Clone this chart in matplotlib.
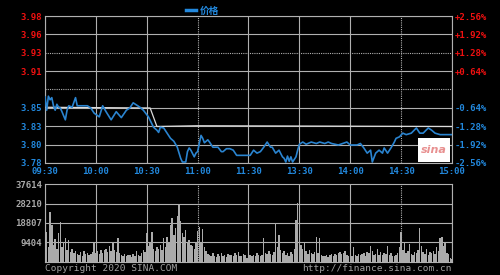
import numpy as np
import matplotlib
matplotlib.use('Agg')
import matplotlib.pyplot as plt

# previous close and the percent grid
prev_close = 3.88
pct_steps = [-2.56, -1.92, -1.28, -0.64, 0.0, 0.64, 1.28, 1.92, 2.56]
left_labels = ['3.78', '3.80', '3.83', '3.85', '', '3.91', '3.93', '3.96', '3.98']
right_labels = ['-2.56%', '-1.92%', '-1.28%', '-0.64%', '', '+0.64%', '+1.28%', '+1.92%', '+2.56%']
time_labels = ['09:30', '10:00', '10:30', '11:00', '11:30', '13:30', '14:00', '14:30', '15:00']
vol_ticks = [9404, 18807, 28210, 37614]
vol_labels = ['9404', '18807', '28210', '37614']

# minute index / price
price_idx = [0, 1, 2, 3, 4, 5, 6, 7, 8, 9, 10, 12, 13, 14, 16, 18, 19, 22, 25, 27,
             29, 32, 34, 36, 39, 42, 45, 48, 50, 52, 54, 56, 58, 61, 64, 66, 67, 68, 70, 72,
             74, 76, 78, 80, 81, 83, 84, 85, 86, 88, 89, 90, 92, 93, 94, 96, 97, 99, 102, 104,
             105, 107, 109, 111, 113, 117, 120, 121, 123, 125, 127, 129, 131, 133, 134, 136, 138, 140, 141, 142,
             143, 144, 145, 146, 148, 149, 150, 152, 154, 157, 160, 162, 165, 167, 169, 173, 178, 180, 184, 186,
             188, 190, 192, 193, 195, 197, 199, 200, 202, 204, 206, 207, 209, 211, 213, 216, 219, 221, 223, 226,
             228, 230, 233, 239, 240]
price_val = [3.870, 3.852, 3.871, 3.866, 3.869, 3.858, 3.852, 3.860, 3.856, 3.855, 3.850, 3.839, 3.852, 3.858, 3.856, 3.869, 3.858, 3.858, 3.858, 3.855,
             3.848, 3.843, 3.858, 3.850, 3.839, 3.850, 3.842, 3.852, 3.855, 3.862, 3.859, 3.856, 3.852, 3.843, 3.829, 3.825, 3.822, 3.829, 3.828, 3.821,
             3.814, 3.810, 3.802, 3.787, 3.782, 3.782, 3.796, 3.801, 3.798, 3.789, 3.794, 3.796, 3.818, 3.814, 3.808, 3.812, 3.809, 3.802, 3.802, 3.796,
             3.796, 3.800, 3.800, 3.798, 3.791, 3.791, 3.791, 3.791, 3.798, 3.794, 3.796, 3.802, 3.809, 3.802, 3.802, 3.794, 3.798, 3.789, 3.787, 3.782,
             3.790, 3.783, 3.789, 3.782, 3.789, 3.798, 3.806, 3.809, 3.806, 3.809, 3.807, 3.809, 3.807, 3.809, 3.807, 3.805, 3.809, 3.805, 3.805, 3.807,
             3.801, 3.794, 3.798, 3.782, 3.794, 3.798, 3.794, 3.801, 3.794, 3.801, 3.809, 3.814, 3.816, 3.821, 3.819, 3.821, 3.828, 3.821, 3.821, 3.828,
             3.825, 3.821, 3.819, 3.819, 3.819]

# average price line (mostly sits on the grid lines)
avg_idx = [0, 62, 66, 90, 240]
avg_val = [3.856, 3.855, 3.830, 3.831, 3.830]

vol_am = [9000, 14600, 7000, 24000, 17800, 8000, 11000, 6500, 14000, 19400,
          7000, 9500, 11500, 6000, 10500, 5000, 6500, 4500, 5500, 4000,
          3500, 4800, 3000, 5200, 3800, 4500, 3200, 4000, 5000, 9100,
          4500, 5500, 3800, 6000, 4200, 5800, 6500, 4800, 7500, 5200,
          9800, 6000, 5000, 11500, 4200, 3500, 3000, 3800, 2800, 3200,
          3500, 2600, 4000, 3000, 5200, 3400, 2800, 4500, 6000, 5000,
          14000, 7500, 9000, 14600, 6500, 5500, 7000, 6200, 8000, 6000,
          11500, 7000, 12000, 9000, 17800, 21200, 13000, 16500, 22000, 27500,
          20000, 14000, 12000, 15400, 9000, 10500, 8000, 7500, 6500, 9000,
          15000, 17000, 9000, 16000, 7000, 5500, 4000, 3500, 3000, 4200,
          3000, 2500, 3800, 2800, 4500, 3000, 3500, 2600, 4000, 3200,
          3600, 2800, 4200, 3400, 4800, 3000, 2700, 3900, 3500, 1800,
          2200]
vol_pm = [3200, 2800, 3600, 3000, 4200, 3500, 2900, 3300, 11500, 4500,
          3800, 5200, 4000, 3500, 4800, 18800, 7000, 13000, 6000, 4500,
          5500, 3500, 4200, 3000, 5000, 3800, 6500, 20200, 28400, 12000,
          8000, 6500, 9000, 5500, 4000, 6000, 4500, 3800, 5000, 12000,
          4200, 11500, 3500, 3000, 2800, 3400, 2600, 3200, 3800, 2900,
          4000, 3300, 4500, 5000, 3700, 4200, 5500, 3200, 2800, 3600,
          3000, 7000, 3500, 2800, 4000, 3300, 3800, 4500, 3000, 5000,
          4200, 7500, 5500, 3600, 4000, 6500, 3500, 4800, 3200, 4500,
          3800, 7500, 3500, 4200, 3000, 2800, 3600, 4500, 7000, 14600,
          6000, 9000, 4500, 5500, 8500, 3800, 3200, 5000, 4200, 6000,
          16400, 7500, 5000, 3800, 6500, 3500, 4800, 4200, 5500, 4000,
          7000, 5500, 11500, 12000, 7500, 9000, 4500, 3800, 2000, 1500]

RED = '#F01010'
BLUE = '#2288DD'
GRID = '#B0B0B0'
LINE = '#2A84D0'
mono = dict(family='DejaVu Sans Mono', weight='bold', size=6.5)

volume = vol_am + vol_pm
n = len(volume)
time_pos = np.arange(0, 241, 30)
price_ticks = [prev_close * (1 + p / 100) for p in pct_steps]

fig = plt.figure(figsize=(5, 2.75), dpi=100, facecolor='black')
ax = fig.add_axes([0.09, 0.4073, 0.814, 0.5345], facecolor='black')
axv = fig.add_axes([0.09, 0.0473, 0.814, 0.2836], facecolor='black')

for a in (ax, axv):
    a.set_xlim(0, 240)
    for s in a.spines.values():
        s.set_color(GRID)
        s.set_linewidth(0.8)
    for t in time_pos:
        dotted = t in (90, 210)
        a.axvline(t, color=GRID, lw=0.8, ls=(0, (1, 1)) if dotted else '-', zorder=1)

ax.set_ylim(price_ticks[0], price_ticks[-1])
for k, v in enumerate(price_ticks):
    dotted = k in (4, 6)
    ax.axhline(v, color=GRID, lw=0.8, ls=(0, (1, 1)) if dotted else '-', zorder=1)

# sina watermark
ax.add_patch(plt.Rectangle((0.916, 0.007), 0.079, 0.163, transform=ax.transAxes,
                           facecolor='white', edgecolor='none', zorder=2))
ax.text(0.955, 0.085, 'sina', transform=ax.transAxes, color='#E89090', fontsize=8,
        style='italic', weight='bold', ha='center', va='center', zorder=3)

ax.plot(avg_idx, avg_val, color='#DCDCDC', lw=0.9, zorder=4)
ax.plot(price_idx, price_val, color=LINE, lw=1.2, zorder=5)

ax.set_yticks(price_ticks)
ax.set_yticklabels(left_labels, fontdict=mono)
for lab, p in zip(ax.get_yticklabels(), pct_steps):
    lab.set_color(RED if p > 0 else BLUE)
ax.set_xticks(time_pos)
ax.set_xticklabels(time_labels, fontdict=mono, color=BLUE)
ax.tick_params(length=0, pad=2)
ax.tick_params(axis='x', pad=3)

ax2 = ax.twinx()
ax2.set_ylim(ax.get_ylim())
ax2.set_yticks(price_ticks)
ax2.set_yticklabels(right_labels, fontdict=mono)
for lab, p in zip(ax2.get_yticklabels(), pct_steps):
    lab.set_color(RED if p > 0 else BLUE)
ax2.tick_params(length=0, pad=2)
for s in ax2.spines.values():
    s.set_visible(False)

axv.set_ylim(0, vol_ticks[-1])
for v in vol_ticks[:-1]:
    axv.axhline(v, color=GRID, lw=0.8, zorder=1)
axv.bar(np.arange(n), volume, width=0.85, color='#ABABAB', zorder=2)
axv.set_yticks(vol_ticks)
axv.set_yticklabels(vol_labels, fontdict=mono, color='#A8A8A8')
axv.set_xticks([])
axv.tick_params(length=0, pad=2)

fig.text(0.09, 0.025, 'Copyright 2020 SINA.COM', color='#A0A0A0', va='center', ha='left',
         family='DejaVu Sans Mono', size=6.8)
fig.text(0.904, 0.025, 'http://finance.sina.com.cn', color='#A0A0A0', va='center', ha='right',
         family='DejaVu Sans Mono', size=6.8)

h, = ax.plot([], [], color=BLUE, lw=2.5)
leg = fig.legend([h], ['价格'], loc='center', bbox_to_anchor=(0.405, 0.962), frameon=False,
                 handlelength=1.0, handletextpad=0.4,
                 prop=dict(family=['Noto Sans CJK SC', 'DejaVu Sans'], size=7, weight='bold'))
for t in leg.get_texts():
    t.set_color(BLUE)

fig.savefig('out.png', dpi=100, facecolor='black')
